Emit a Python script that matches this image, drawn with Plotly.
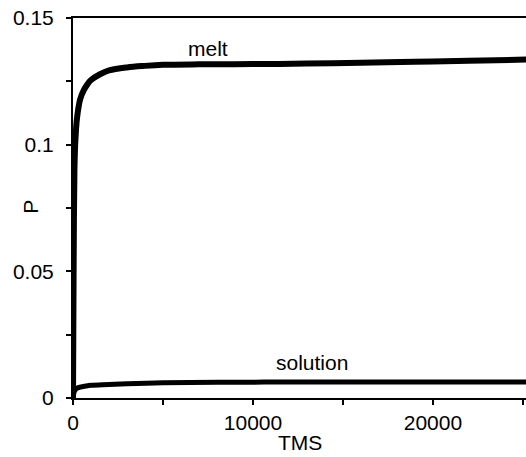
import plotly.graph_objects as go

melt_x = [0, 20, 50, 80, 120, 160, 200, 250, 300, 400, 600, 800, 1000, 1500, 2000, 3000, 4000, 5000, 7000,
          10000, 13000, 16000, 19000, 22000, 25200]
melt_p = [0, 0.03, 0.07, 0.09, 0.100, 0.105, 0.109, 0.112, 0.1145, 0.118, 0.1215, 0.1238, 0.1255, 0.1278,
          0.1293, 0.1305, 0.1311, 0.1315, 0.1317, 0.1318, 0.1320, 0.1323, 0.1327, 0.1331, 0.1336]

sol_x = [0, 50, 100, 200, 400, 700, 1000, 2000, 3000, 5000, 8000, 12000, 16000, 20000, 25200]
sol_p = [0, 0.002, 0.003, 0.0038, 0.0043, 0.0047, 0.0050, 0.0053, 0.0056, 0.0060, 0.0062, 0.0063, 0.0063, 0.0063, 0.0063]

labels = ["melt", "solution"]
label_x = [7500, 13280]
label_y = [0.1378, 0.0140]

FONT = "Liberation Sans, Arial, sans-serif"

fig = go.Figure()
fig.add_trace(go.Scatter(x=melt_x, y=melt_p, mode="lines", line=dict(color="black", width=6), line_shape="spline"))
fig.add_trace(go.Scatter(x=sol_x, y=sol_p, mode="lines", line=dict(color="black", width=5), line_shape="spline"))

for t, x, y in zip(labels, label_x, label_y):
    fig.add_annotation(x=x, y=y, text=t, showarrow=False, font=dict(family=FONT, size=21, color="black"))

# axis titles
fig.add_annotation(xref="paper", yref="paper", x=0.5, y=-0.153, text="TMS", showarrow=False,
                   font=dict(family=FONT, size=21, color="black"), xanchor="center", yanchor="bottom")
fig.add_annotation(xref="paper", yref="paper", x=-0.0927, y=0.503, text="P", showarrow=False, textangle=-90,
                   font=dict(family=FONT, size=21, color="black"), xanchor="center", yanchor="middle")

fig.update_layout(
    width=526, height=457,
    margin=dict(l=73, r=0, t=18, b=59),
    plot_bgcolor="white", paper_bgcolor="white",
    showlegend=False,
    font=dict(family=FONT, size=21, color="black"),
    xaxis=dict(range=[0, 25170], tickvals=[0, 10000, 20000], ticktext=["0", "10000", "20000"],
               ticks="outside", ticklen=5, tickwidth=1.5, tickcolor="black",
               minor=dict(tickvals=[5000, 15000, 25000], ticks="outside", ticklen=5, tickwidth=1.5, tickcolor="black"),
               showline=True, linecolor="black", linewidth=2, mirror=True, showgrid=False, zeroline=False),
    yaxis=dict(range=[0, 0.15], tickvals=[0, 0.05, 0.1, 0.15], ticktext=["0", "0.05", "0.1", "0.15"],
               ticks="outside", ticklen=5, tickwidth=1.5, tickcolor="black", ticklabelstandoff=8,
               minor=dict(tickvals=[0.025, 0.075, 0.125], ticks="outside", ticklen=5, tickwidth=1.5, tickcolor="black"),
               showline=True, linecolor="black", linewidth=2, showgrid=False, zeroline=False),
)

fig.write_html("out.html")
